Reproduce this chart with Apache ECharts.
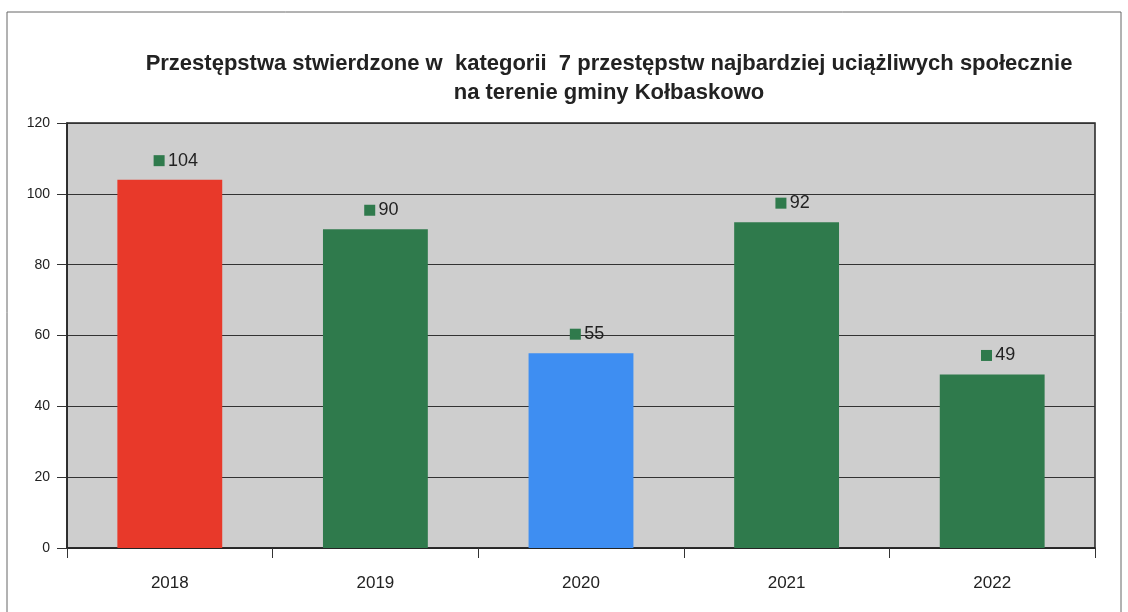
<!DOCTYPE html>
<html>
<head>
<meta charset="utf-8">
<script src="https://cdn.jsdelivr.net/npm/echarts@6/dist/echarts.min.js"></script>
<style>
    html, body { margin: 0; padding: 0; background: #fff; }
    #barChart { width: 1128px; height: 612px; }
</style>
</head>
<body>
<div id="barChart"></div>
<script>
    const years = ['2018', '2019', '2020', '2021', '2022'];
    const crimes = [104, 90, 55, 92, 49];
    const barColors = ['#e8392a', '#2f7a4c', '#3e8ef2', '#2f7a4c', '#2f7a4c'];
    const yTicks = [0, 20, 40, 60, 80, 100, 120];

    const titleText = 'Przestępstwa stwierdzone w  kategorii  7 przestępstw najbardziej uciążliwych społecznie\nna terenie gminy Kołbaskowo';

    const myChart = echarts.init(document.getElementById('barChart'));

    const option = {
        animation: false,
        textStyle: { fontFamily: 'Liberation Sans, Arial, sans-serif' },
        title: {
            text: titleText,
            left: 604,
            top: 44,
            textAlign: 'center',
            textStyle: {
                fontSize: 22,
                fontWeight: 'bold',
                color: '#222',
                lineHeight: 29,
                fontFamily: 'Liberation Sans, Arial, sans-serif'
            }
        },
        graphic: [{
            type: 'rect',
            shape: { x: 7, y: 12, width: 1114, height: 640 },
            style: { fill: 'none', stroke: '#666', lineWidth: 1 },
            silent: true,
            z: -1
        }],
        grid: {
            left: 67,
            right: 33,
            top: 123,
            bottom: 64,
            show: true,
            backgroundColor: '#cecece',
            borderColor: '#222',
            borderWidth: 1.5
        },
        xAxis: {
            type: 'category',
            data: years,
            axisLine: { show: true, lineStyle: { color: '#222', width: 1.5 } },
            axisTick: { show: true, length: 10, lineStyle: { color: '#333' } },
            axisLabel: { fontSize: 17, color: '#222', margin: 27 },
            splitLine: { show: false }
        },
        yAxis: {
            type: 'value',
            min: yTicks[0],
            max: yTicks[yTicks.length - 1],
            interval: 20,
            axisLine: { show: true, lineStyle: { color: '#222', width: 1.5 } },
            axisTick: { show: true, length: 10, inside: false, lineStyle: { color: '#333' } },
            axisLabel: { fontSize: 14, color: '#222', margin: 17 },
            splitLine: { show: true, lineStyle: { color: '#333', width: 1 } }
        },
        series: [{
            type: 'bar',
            barWidth: '51%',
            data: crimes.map((v, i) => ({
                value: v,
                itemStyle: { color: barColors[i] }
            })),
            label: {
                show: true,
                position: 'top',
                distance: 10,
                offset: [6, 0],
                formatter: '{sq|} {v|{c}}',
                rich: {
                    sq: {
                        width: 11,
                        height: 11,
                        backgroundColor: '#2f7a4c'
                    },
                    v: {
                        fontSize: 18,
                        color: '#222'
                    }
                }
            }
        }]
    };

    myChart.setOption(option);
</script>
</body>
</html>
